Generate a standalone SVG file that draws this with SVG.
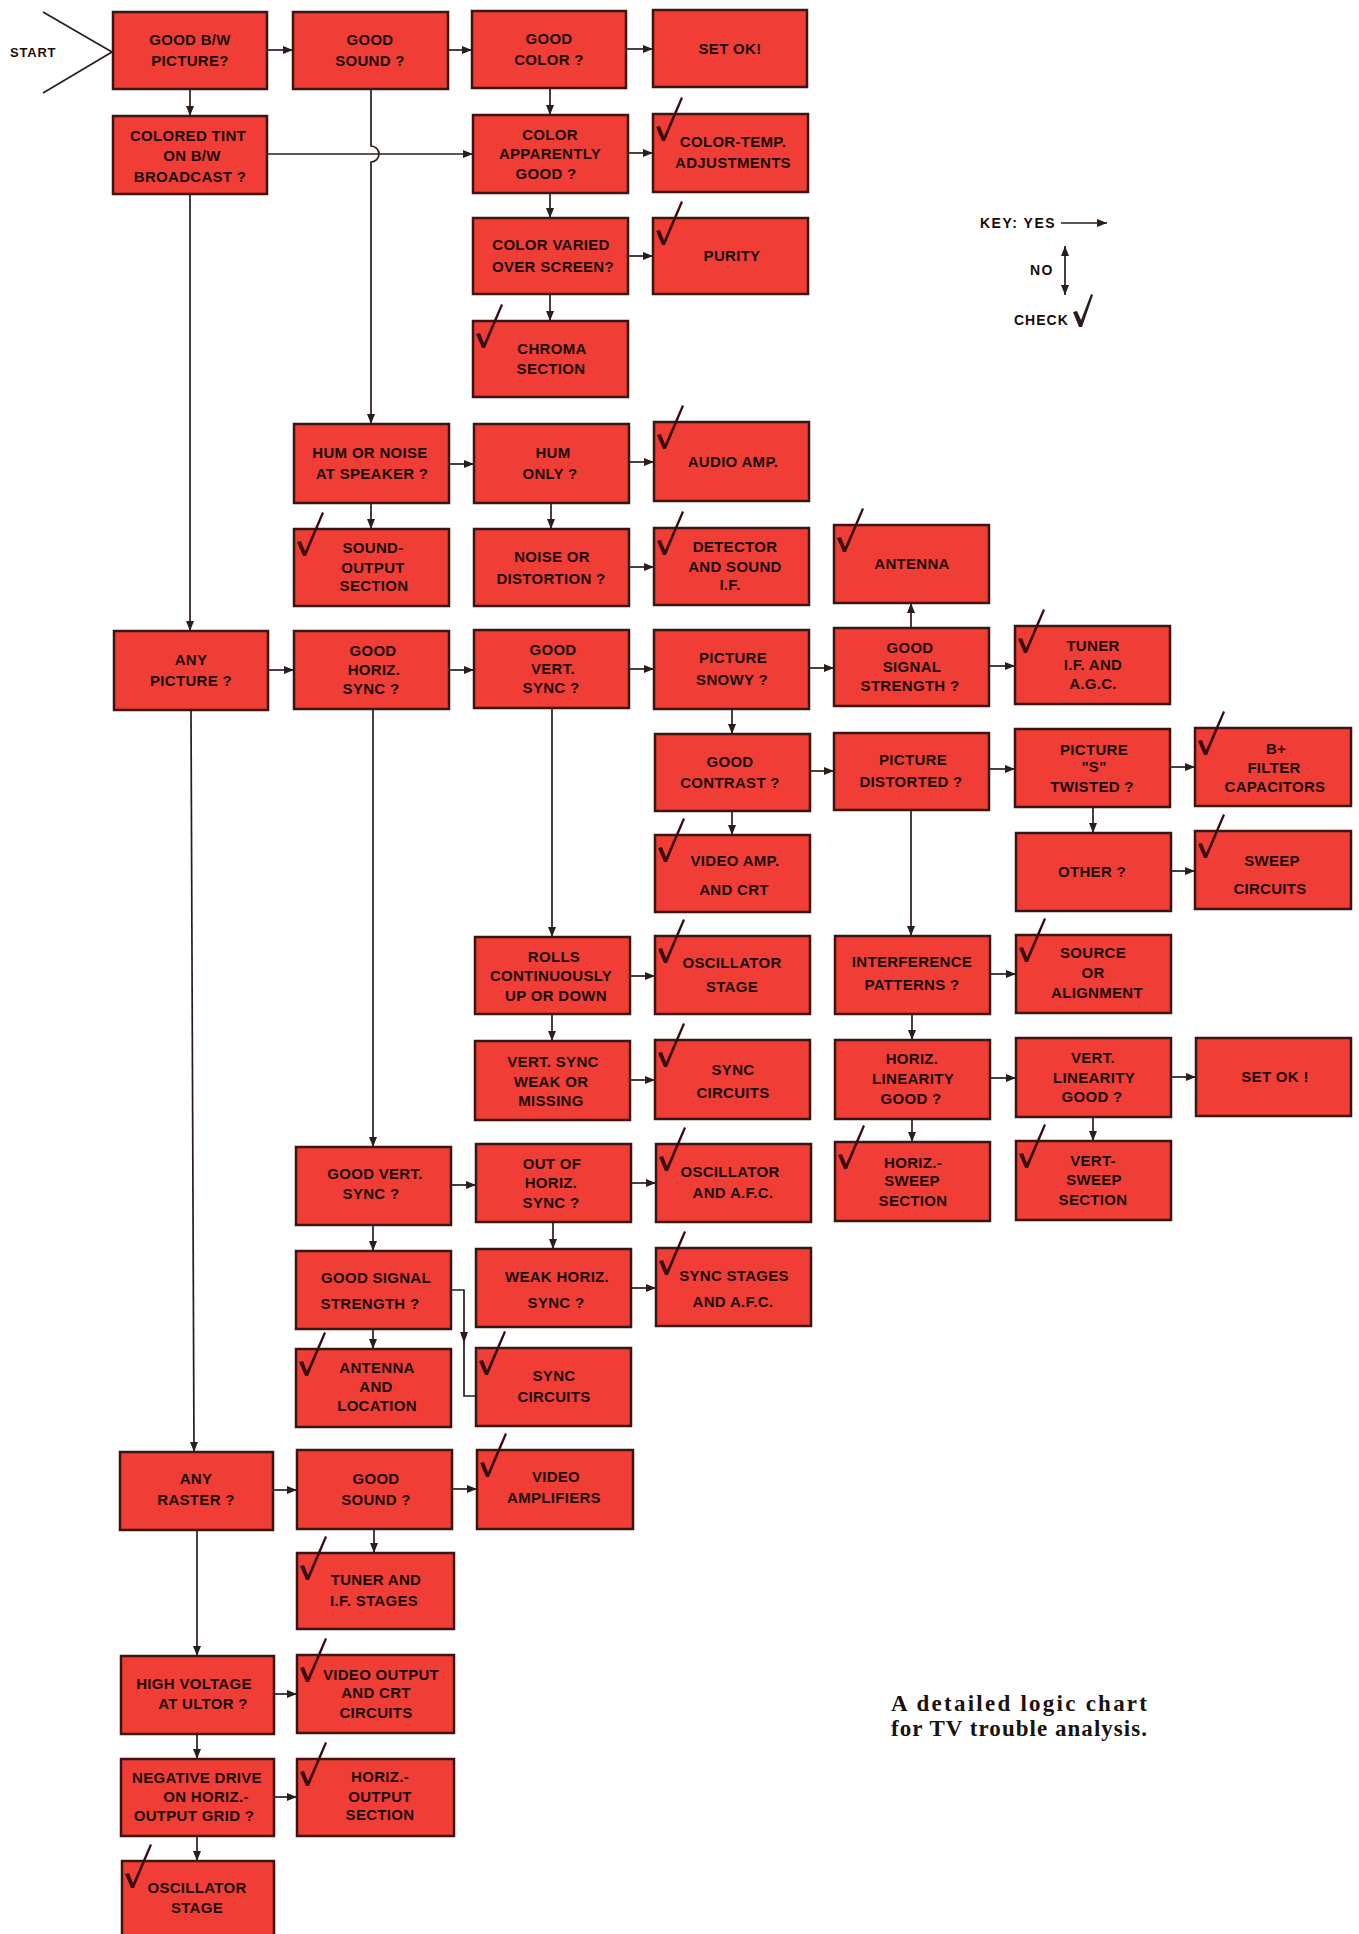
<svg xmlns="http://www.w3.org/2000/svg" xmlns:xlink="http://www.w3.org/1999/xlink" width="1359" height="1934" viewBox="0 0 1359 1934">
<style>
.bx{fill:#f03e36;stroke:#3a1512;stroke-width:2.5}
.t{font-family:"Liberation Sans",Arial,sans-serif;font-weight:bold;font-size:15px;fill:#1c0c08;text-anchor:middle;letter-spacing:0.3px}
.k{font-family:"Liberation Sans",Arial,sans-serif;font-weight:bold;font-size:14px;fill:#1c0c08;letter-spacing:1.5px}
.c{fill:none;stroke:#2b1d18;stroke-width:1.7}
.ca{fill:none;stroke:#2b1d18;stroke-width:1.7;marker-end:url(#ah)}
.cap{font-family:"Liberation Serif","Times New Roman",serif;font-weight:bold;font-size:23px;fill:#1a1210}
</style>
<defs>
<marker id="ah" viewBox="0 0 10 8" refX="10" refY="4" markerWidth="10" markerHeight="8" orient="auto-start-reverse" markerUnits="userSpaceOnUse"><path d="M0,0 L10,4 L0,8 z" fill="#2b1d18"/></marker>
<path id="ck" d="M3,13 L7,12 L11,22 L28,-17 L30,-16 L12,27 L9,27 Z" fill="#3b0a0e"/>
</defs>
<rect width="1359" height="1934" fill="#ffffff"/>

<g id="start">
<text class="k" x="10" y="57" style="letter-spacing:0.8px;font-size:13px">START</text>
<path class="c" d="M43,12 L112,52 L43,93"/>
</g>

<g id="connectors">
<line class="ca" x1="267" y1="50" x2="293" y2="50"/>
<line class="ca" x1="448" y1="50" x2="472" y2="50"/>
<line class="ca" x1="626" y1="49" x2="653" y2="49"/>
<line class="ca" x1="267" y1="154" x2="473" y2="154"/>
<line class="ca" x1="628" y1="153" x2="653" y2="153"/>
<line class="ca" x1="628" y1="256" x2="653" y2="256"/>
<line class="ca" x1="449" y1="464" x2="474" y2="464"/>
<line class="ca" x1="629" y1="462" x2="654" y2="462"/>
<line class="ca" x1="629" y1="567" x2="654" y2="567"/>
<line class="ca" x1="268" y1="670" x2="294" y2="670"/>
<line class="ca" x1="449" y1="670" x2="474" y2="670"/>
<line class="ca" x1="629" y1="669" x2="654" y2="669"/>
<line class="ca" x1="809" y1="668" x2="834" y2="668"/>
<line class="ca" x1="989" y1="666" x2="1015" y2="666"/>
<line class="ca" x1="810" y1="771" x2="834" y2="771"/>
<line class="ca" x1="989" y1="769" x2="1015" y2="769"/>
<line class="ca" x1="1170" y1="767" x2="1195" y2="767"/>
<line class="ca" x1="1171" y1="871" x2="1195" y2="871"/>
<line class="ca" x1="630" y1="976" x2="655" y2="976"/>
<line class="ca" x1="990" y1="974" x2="1016" y2="974"/>
<line class="ca" x1="630" y1="1080" x2="655" y2="1080"/>
<line class="ca" x1="990" y1="1078" x2="1016" y2="1078"/>
<line class="ca" x1="1171" y1="1077" x2="1196" y2="1077"/>
<line class="ca" x1="451" y1="1185" x2="476" y2="1185"/>
<line class="ca" x1="631" y1="1183" x2="656" y2="1183"/>
<line class="ca" x1="631" y1="1288" x2="656" y2="1288"/>
<line class="ca" x1="273" y1="1490" x2="297" y2="1490"/>
<line class="ca" x1="452" y1="1489" x2="477" y2="1489"/>
<line class="ca" x1="274" y1="1694" x2="297" y2="1694"/>
<line class="ca" x1="274" y1="1797" x2="297" y2="1797"/>

<line class="ca" x1="190" y1="89" x2="190" y2="116"/>
<line class="ca" x1="550" y1="88" x2="550" y2="115"/>
<line class="ca" x1="550" y1="193" x2="550" y2="218"/>
<line class="ca" x1="550" y1="294" x2="550" y2="321"/>
<path class="ca" d="M371,89 V146 A8,8 0 0 1 371,162 V424"/>
<line class="ca" x1="371" y1="503" x2="371" y2="529"/>
<line class="ca" x1="551" y1="503" x2="551" y2="529"/>
<line class="ca" x1="190" y1="194" x2="190" y2="631"/>
<line class="ca" x1="911" y1="628" x2="911" y2="603"/>
<line class="ca" x1="732" y1="709" x2="732" y2="734"/>
<line class="ca" x1="1093" y1="807" x2="1093" y2="833"/>
<line class="ca" x1="911" y1="810" x2="911" y2="936"/>
<line class="ca" x1="912" y1="1014" x2="912" y2="1040"/>
<line class="ca" x1="912" y1="1119" x2="912" y2="1142"/>
<line class="ca" x1="1093" y1="1117" x2="1093" y2="1141"/>
<line class="ca" x1="552" y1="708" x2="552" y2="937"/>
<line class="ca" x1="552" y1="1014" x2="552" y2="1041"/>
<line class="ca" x1="373" y1="709" x2="373" y2="1147"/>
<line class="ca" x1="373" y1="1225" x2="373" y2="1251"/>
<line class="ca" x1="553" y1="1222" x2="553" y2="1249"/>
<line class="ca" x1="373" y1="1329" x2="373" y2="1349"/>
<line class="ca" x1="732" y1="811" x2="732" y2="835"/>
<line class="ca" x1="191" y1="710" x2="194" y2="1452"/>
<line class="ca" x1="374" y1="1529" x2="374" y2="1553"/>
<line class="ca" x1="197" y1="1530" x2="197" y2="1656"/>
<line class="ca" x1="197" y1="1734" x2="197" y2="1759"/>
<line class="ca" x1="197" y1="1836" x2="197" y2="1861"/>
<path class="c" d="M451,1290 H464 V1396 H476"/>
<path d="M460,1332 L468,1332 L464,1343 Z" fill="#2b1d18"/>
</g>

<g id="nodes">
<g id="n1"><rect class="bx" x="113" y="12" width="154" height="77"/><text class="t" x="190" y="45">GOOD B/W</text><text class="t" x="190" y="66">PICTURE?</text></g>
<g id="n2"><rect class="bx" x="293" y="12" width="155" height="77"/><text class="t" x="370" y="45">GOOD</text><text class="t" x="370" y="66">SOUND ?</text></g>
<g id="n3"><rect class="bx" x="472" y="11" width="154" height="77"/><text class="t" x="549" y="44">GOOD</text><text class="t" x="549" y="65">COLOR ?</text></g>
<g id="n4"><rect class="bx" x="653" y="10" width="154" height="77"/><text class="t" x="730" y="54">SET OK!</text></g>
<g id="n5"><rect class="bx" x="113" y="116" width="154" height="78"/><text class="t" x="188" y="141">COLORED TINT</text><text class="t" x="192" y="161">ON B/W</text><text class="t" x="190" y="182">BROADCAST ?</text></g>
<g id="n6"><rect class="bx" x="473" y="115" width="155" height="78"/><text class="t" x="550" y="140">COLOR</text><text class="t" x="550" y="159">APPARENTLY</text><text class="t" x="546" y="179">GOOD ?</text></g>
<g id="n7"><rect class="bx" x="653" y="114" width="155" height="78"/><use xlink:href="#ck" x="653" y="114"/><text class="t" x="733" y="147">COLOR-TEMP.</text><text class="t" x="733" y="168">ADJUSTMENTS</text></g>
<g id="n8"><rect class="bx" x="473" y="218" width="155" height="76"/><text class="t" x="551" y="250">COLOR VARIED</text><text class="t" x="553" y="272">OVER SCREEN?</text></g>
<g id="n9"><rect class="bx" x="653" y="218" width="155" height="76"/><use xlink:href="#ck" x="653" y="218"/><text class="t" x="732" y="261">PURITY</text></g>
<g id="n10"><rect class="bx" x="473" y="321" width="155" height="76"/><use xlink:href="#ck" x="473" y="321"/><text class="t" x="552" y="354">CHROMA</text><text class="t" x="551" y="374">SECTION</text></g>
<g id="n11"><rect class="bx" x="294" y="424" width="155" height="79"/><text class="t" x="370" y="458">HUM OR NOISE</text><text class="t" x="372" y="479">AT SPEAKER ?</text></g>
<g id="n12"><rect class="bx" x="474" y="424" width="155" height="79"/><text class="t" x="553" y="458">HUM</text><text class="t" x="550" y="479">ONLY ?</text></g>
<g id="n13"><rect class="bx" x="654" y="422" width="155" height="79"/><use xlink:href="#ck" x="654" y="422"/><text class="t" x="733" y="467">AUDIO AMP.</text></g>
<g id="n14"><rect class="bx" x="294" y="529" width="155" height="77"/><use xlink:href="#ck" x="294" y="529"/><text class="t" x="373" y="553">SOUND-</text><text class="t" x="373" y="573">OUTPUT</text><text class="t" x="374" y="591">SECTION</text></g>
<g id="n15"><rect class="bx" x="474" y="529" width="155" height="77"/><text class="t" x="552" y="562">NOISE OR</text><text class="t" x="551" y="584">DISTORTION ?</text></g>
<g id="n16"><rect class="bx" x="654" y="528" width="155" height="77"/><use xlink:href="#ck" x="654" y="528"/><text class="t" x="735" y="552">DETECTOR</text><text class="t" x="735" y="572">AND SOUND</text><text class="t" x="730" y="590">I.F.</text></g>
<g id="n17"><rect class="bx" x="834" y="525" width="155" height="78"/><use xlink:href="#ck" x="834" y="525"/><text class="t" x="912" y="569">ANTENNA</text></g>
<g id="n18"><rect class="bx" x="114" y="631" width="154" height="79"/><text class="t" x="191" y="665">ANY</text><text class="t" x="191" y="686">PICTURE ?</text></g>
<g id="n19"><rect class="bx" x="294" y="631" width="155" height="78"/><text class="t" x="373" y="656">GOOD</text><text class="t" x="374" y="675">HORIZ.</text><text class="t" x="371" y="694">SYNC ?</text></g>
<g id="n20"><rect class="bx" x="474" y="630" width="155" height="78"/><text class="t" x="553" y="655">GOOD</text><text class="t" x="553" y="674">VERT.</text><text class="t" x="551" y="693">SYNC ?</text></g>
<g id="n21"><rect class="bx" x="654" y="630" width="155" height="79"/><text class="t" x="733" y="663">PICTURE</text><text class="t" x="732" y="685">SNOWY ?</text></g>
<g id="n22"><rect class="bx" x="834" y="628" width="155" height="78"/><text class="t" x="910" y="653">GOOD</text><text class="t" x="912" y="672">SIGNAL</text><text class="t" x="910" y="691">STRENGTH ?</text></g>
<g id="n23"><rect class="bx" x="1015" y="626" width="155" height="78"/><use xlink:href="#ck" x="1015" y="626"/><text class="t" x="1093" y="651">TUNER</text><text class="t" x="1093" y="670">I.F. AND</text><text class="t" x="1093" y="689">A.G.C.</text></g>
<g id="n24"><rect class="bx" x="655" y="734" width="155" height="77"/><text class="t" x="730" y="767">GOOD</text><text class="t" x="730" y="788">CONTRAST ?</text></g>
<g id="n25"><rect class="bx" x="834" y="733" width="155" height="77"/><text class="t" x="913" y="765">PICTURE</text><text class="t" x="911" y="787">DISTORTED ?</text></g>
<g id="n26"><rect class="bx" x="1015" y="729" width="155" height="78"/><text class="t" x="1094" y="755">PICTURE</text><text class="t" x="1094" y="772">"S"</text><text class="t" x="1092" y="792">TWISTED ?</text></g>
<g id="n27"><rect class="bx" x="1195" y="728" width="156" height="78"/><use xlink:href="#ck" x="1195" y="728"/><text class="t" x="1276" y="754">B+</text><text class="t" x="1274" y="773">FILTER</text><text class="t" x="1275" y="792">CAPACITORS</text></g>
<g id="n28"><rect class="bx" x="655" y="835" width="155" height="77"/><use xlink:href="#ck" x="655" y="835"/><text class="t" x="735" y="866">VIDEO AMP.</text><text class="t" x="734" y="895">AND CRT</text></g>
<g id="n29"><rect class="bx" x="1016" y="833" width="155" height="78"/><text class="t" x="1092" y="877">OTHER ?</text></g>
<g id="n30"><rect class="bx" x="1195" y="831" width="156" height="78"/><use xlink:href="#ck" x="1195" y="831"/><text class="t" x="1272" y="866">SWEEP</text><text class="t" x="1270" y="894">CIRCUITS</text></g>
<g id="n31"><rect class="bx" x="475" y="937" width="155" height="77"/><text class="t" x="554" y="962">ROLLS</text><text class="t" x="551" y="981">CONTINUOUSLY</text><text class="t" x="556" y="1001">UP OR DOWN</text></g>
<g id="n32"><rect class="bx" x="655" y="936" width="155" height="78"/><use xlink:href="#ck" x="655" y="936"/><text class="t" x="732" y="968">OSCILLATOR</text><text class="t" x="732" y="992">STAGE</text></g>
<g id="n33"><rect class="bx" x="835" y="936" width="155" height="78"/><text class="t" x="912" y="967">INTERFERENCE</text><text class="t" x="912" y="990">PATTERNS ?</text></g>
<g id="n34"><rect class="bx" x="1016" y="935" width="155" height="78"/><use xlink:href="#ck" x="1016" y="935"/><text class="t" x="1093" y="958">SOURCE</text><text class="t" x="1093" y="978">OR</text><text class="t" x="1097" y="998">ALIGNMENT</text></g>
<g id="n35"><rect class="bx" x="475" y="1041" width="155" height="79"/><text class="t" x="553" y="1067">VERT. SYNC</text><text class="t" x="551" y="1087">WEAK OR</text><text class="t" x="551" y="1106">MISSING</text></g>
<g id="n36"><rect class="bx" x="655" y="1040" width="155" height="79"/><use xlink:href="#ck" x="655" y="1040"/><text class="t" x="733" y="1075">SYNC</text><text class="t" x="733" y="1098">CIRCUITS</text></g>
<g id="n37"><rect class="bx" x="835" y="1040" width="155" height="79"/><text class="t" x="912" y="1064">HORIZ.</text><text class="t" x="913" y="1084">LINEARITY</text><text class="t" x="911" y="1104">GOOD ?</text></g>
<g id="n38"><rect class="bx" x="1016" y="1038" width="155" height="79"/><text class="t" x="1093" y="1063">VERT.</text><text class="t" x="1094" y="1083">LINEARITY</text><text class="t" x="1092" y="1102">GOOD ?</text></g>
<g id="n39"><rect class="bx" x="1196" y="1038" width="155" height="78"/><text class="t" x="1275" y="1082">SET OK !</text></g>
<g id="n40"><rect class="bx" x="296" y="1147" width="155" height="78"/><text class="t" x="375" y="1179">GOOD VERT.</text><text class="t" x="371" y="1199">SYNC ?</text></g>
<g id="n41"><rect class="bx" x="476" y="1144" width="155" height="78"/><text class="t" x="552" y="1169">OUT OF</text><text class="t" x="551" y="1188">HORIZ.</text><text class="t" x="551" y="1208">SYNC ?</text></g>
<g id="n42"><rect class="bx" x="656" y="1144" width="155" height="78"/><use xlink:href="#ck" x="656" y="1144"/><text class="t" x="730" y="1177">OSCILLATOR</text><text class="t" x="733" y="1198">AND A.F.C.</text></g>
<g id="n43"><rect class="bx" x="835" y="1142" width="155" height="79"/><use xlink:href="#ck" x="835" y="1142"/><text class="t" x="913" y="1168">HORIZ.-</text><text class="t" x="912" y="1186">SWEEP</text><text class="t" x="913" y="1206">SECTION</text></g>
<g id="n44"><rect class="bx" x="1016" y="1141" width="155" height="79"/><use xlink:href="#ck" x="1016" y="1141"/><text class="t" x="1093" y="1166">VERT-</text><text class="t" x="1094" y="1185">SWEEP</text><text class="t" x="1093" y="1205">SECTION</text></g>
<g id="n45"><rect class="bx" x="296" y="1251" width="155" height="78"/><text class="t" x="376" y="1283">GOOD SIGNAL</text><text class="t" x="370" y="1309">STRENGTH ?</text></g>
<g id="n46"><rect class="bx" x="476" y="1249" width="155" height="78"/><text class="t" x="557" y="1282">WEAK HORIZ.</text><text class="t" x="556" y="1308">SYNC ?</text></g>
<g id="n47"><rect class="bx" x="656" y="1248" width="155" height="78"/><use xlink:href="#ck" x="656" y="1248"/><text class="t" x="734" y="1281">SYNC STAGES</text><text class="t" x="733" y="1307">AND A.F.C.</text></g>
<g id="n48"><rect class="bx" x="296" y="1349" width="155" height="78"/><use xlink:href="#ck" x="296" y="1349"/><text class="t" x="377" y="1373">ANTENNA</text><text class="t" x="376" y="1392">AND</text><text class="t" x="377" y="1411">LOCATION</text></g>
<g id="n49"><rect class="bx" x="476" y="1348" width="155" height="78"/><use xlink:href="#ck" x="476" y="1348"/><text class="t" x="554" y="1381">SYNC</text><text class="t" x="554" y="1402">CIRCUITS</text></g>
<g id="n50"><rect class="bx" x="120" y="1452" width="153" height="78"/><text class="t" x="196" y="1484">ANY</text><text class="t" x="196" y="1505">RASTER ?</text></g>
<g id="n51"><rect class="bx" x="297" y="1450" width="155" height="79"/><text class="t" x="376" y="1484">GOOD</text><text class="t" x="376" y="1505">SOUND ?</text></g>
<g id="n52"><rect class="bx" x="477" y="1450" width="156" height="79"/><use xlink:href="#ck" x="477" y="1450"/><text class="t" x="556" y="1482">VIDEO</text><text class="t" x="554" y="1503">AMPLIFIERS</text></g>
<g id="n53"><rect class="bx" x="297" y="1553" width="157" height="76"/><use xlink:href="#ck" x="297" y="1553"/><text class="t" x="376" y="1585">TUNER AND</text><text class="t" x="374" y="1606">I.F. STAGES</text></g>
<g id="n54"><rect class="bx" x="121" y="1656" width="153" height="78"/><text class="t" x="194" y="1689">HIGH VOLTAGE</text><text class="t" x="203" y="1709">AT ULTOR ?</text></g>
<g id="n55"><rect class="bx" x="297" y="1655" width="157" height="78"/><use xlink:href="#ck" x="297" y="1655"/><text class="t" x="381" y="1680">VIDEO OUTPUT</text><text class="t" x="376" y="1698">AND CRT</text><text class="t" x="376" y="1718">CIRCUITS</text></g>
<g id="n56"><rect class="bx" x="121" y="1759" width="153" height="77"/><text class="t" x="197" y="1783">NEGATIVE DRIVE</text><text class="t" x="206" y="1802">ON HORIZ.-</text><text class="t" x="194" y="1821">OUTPUT GRID ?</text></g>
<g id="n57"><rect class="bx" x="297" y="1759" width="157" height="77"/><use xlink:href="#ck" x="297" y="1759"/><text class="t" x="380" y="1782">HORIZ.-</text><text class="t" x="380" y="1802">OUTPUT</text><text class="t" x="380" y="1820">SECTION</text></g>
<g id="n58"><rect class="bx" x="122" y="1861" width="152" height="80"/><use xlink:href="#ck" x="122" y="1861"/><text class="t" x="197" y="1893">OSCILLATOR</text><text class="t" x="197" y="1913">STAGE</text></g>
</g>

<g id="key">
<text class="k" x="980" y="228">KEY: YES</text>
<line class="ca" x1="1061" y1="223" x2="1107" y2="223"/>
<text class="k" x="1030" y="275">NO</text>
<line class="ca" x1="1065" y1="246" x2="1065" y2="295" style="marker-start:url(#ah)"/>
<text class="k" x="1014" y="325" style="letter-spacing:1px">CHECK</text>
<path d="M1073,312 L1077,311 L1081,320 L1091,294 L1093,295 L1082,327 L1079,327 Z" fill="#2b1d18"/>
</g>

<g id="caption">
<text class="cap" x="891" y="1711" textLength="256" lengthAdjust="spacing">A detailed logic chart</text>
<text class="cap" x="891" y="1736" textLength="256" lengthAdjust="spacing">for TV trouble analysis.</text>
</g>
</svg>
